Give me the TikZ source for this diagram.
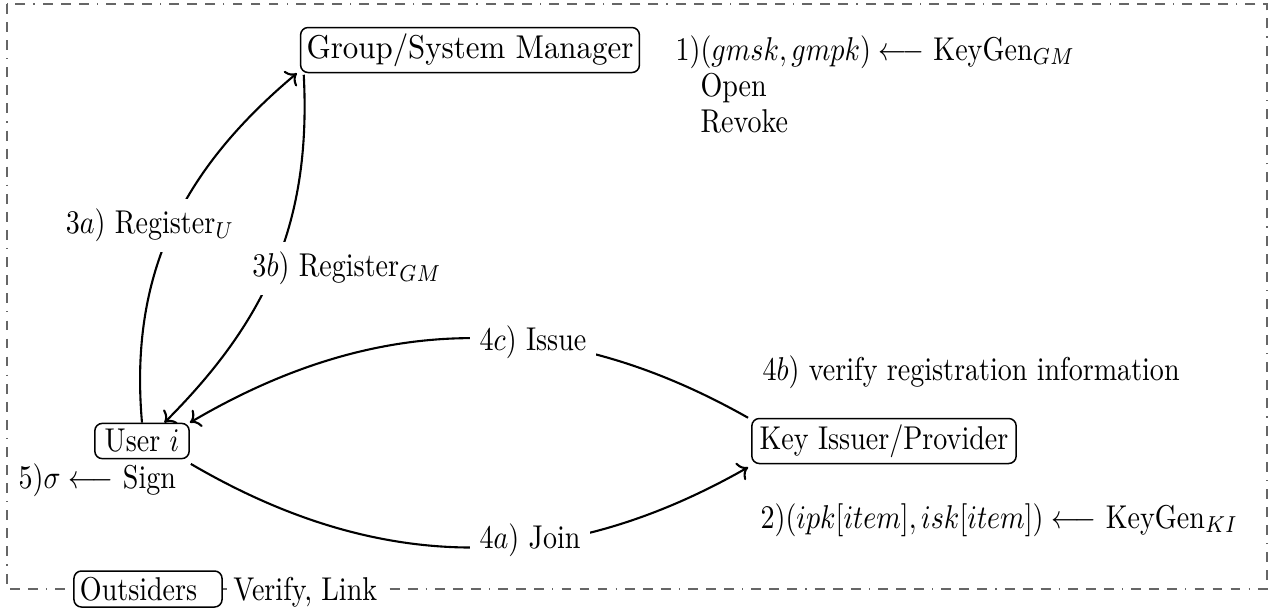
\documentclass[tikz,border=0pt]{standalone}
\usepackage{graphicx}
\usetikzlibrary{arrows.meta}
\newcommand{\sq}[1]{\scalebox{0.935}[1.1]{#1}}
\begin{document}
\begin{tikzpicture}[x=0.3333pt,y=-0.3333pt,
  box/.style={draw, rounded corners=2.5pt, inner sep=2pt, line width=0.5pt},
  conn/.style={->, line width=0.7pt},
  lbl/.style={fill=white, inner sep=3.33pt},
  txt/.style={inner sep=0pt},
  frame/.style={draw=black!60, line width=0.5pt,
    dash pattern=on 3.3pt off 2.7pt on 3.3pt off 2.7pt on 3.3pt off 2.7pt on 0.4pt off 2.7pt}]
\useasboundingbox (0,0) rectangle (1275,607);
\draw[frame] (7,4) rectangle (1267,589);

\node[box] (gsm) at (470,50) {\scalebox{1.03}[1.1]{Group/System Manager}};
\node[box, inner xsep=3.3pt] (user) at (142,441) {\sq{User $i$}};
\node[box, inner xsep=2.6pt] (ki) at (884,441) {\sq{Key Issuer/Provider}};
\node[box, fill=white] (out) at (148,589) {\sq{Outsiders\hspace{6.7pt}}};
\node[txt, fill=white, inner sep=2pt, anchor=base west] (vl) at ([xshift=1.3pt]out.base east) {\sq{Verify, Link}};

\node[txt, anchor=base west] (gmtxt) at (675,60) {\begin{tabular}[t]{@{}l@{}}\sq{1)$(gmsk, gmpk)\longleftarrow$ KeyGen$_{GM}$}\\ \sq{\phantom{1)}Open}\\ \sq{\phantom{1)}Revoke}\end{tabular}};
\node[txt, anchor=base west] (sign) at (18,488) {\sq{5)$\sigma\longleftarrow$ Sign}};
\node[txt, anchor=base west] (verif) at (762,380) {\sq{$4b)$ verify registration information}};
\node[txt, anchor=base west] (kgki) at (760,528) {\sq{2)$(ipk[item], isk[item])\longleftarrow$ KeyGen$_{KI}$}};

\draw[conn] (user.north) to[out=95,in=220] ([xshift=-1pt]gsm.south west);
\draw[conn] ([xshift=1.3pt,yshift=-0.5pt]gsm.south west) to[out=-87,in=45] ([xshift=-8.5pt]user.north east);
\draw[conn] ([xshift=-1pt]ki.north west) to[bend right=30] ([xshift=0pt]user.north east);
\draw[conn] ([shift={(0.3pt,-1.5pt)}]user.south east) to[bend right=30] ([shift={(-1pt,-1pt)}]ki.south west);

\node[lbl] (l3a) at (150,225) {\sq{$3a)$ Register$_U$}};
\node[lbl] (l3b) at (347,268) {\sq{$3b)$ Register$_{GM}$}};
\node[lbl] (l4c) at (533,342) {\sq{$4c)$ Issue}};
\node[lbl] (l4a) at (530,540) {\sq{$4a)$ Join}};
\end{tikzpicture}
\end{document}
